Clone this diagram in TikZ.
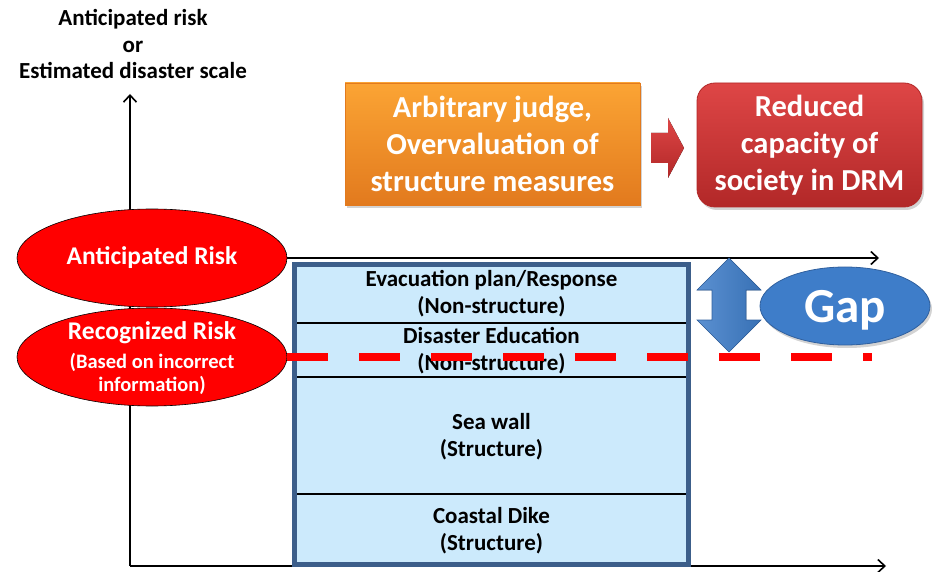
\documentclass[tikz,border=0pt]{standalone}
\usepackage{fontspec}
\setmainfont{Carlito}
\usetikzlibrary{shapes.geometric,arrows.meta,shadows}
\definecolor{boxfill}{RGB}{204,234,252}
\definecolor{boxedge}{RGB}{60,94,138}
\definecolor{orangetop}{RGB}{251,164,52}
\definecolor{orangebot}{RGB}{226,122,30}
\definecolor{redtop}{RGB}{222,70,70}
\definecolor{redbot}{RGB}{178,40,40}
\definecolor{bluefill}{RGB}{62,125,201}
\definecolor{blueedge}{RGB}{48,96,158}
\definecolor{dashred}{RGB}{255,0,0}
\tikzset{
  axisline/.style={line width=2.2pt,-{Straight Barb[length=7pt,width=13pt,line width=1.6pt]}},
  bigtext/.style={font=\bfseries\fontsize{30.5}{37}\selectfont,text=white,align=center},
  riskell/.style={ellipse,draw=black,line width=0.6pt,fill=dashred,text=white,
     minimum width=270pt,minimum height=98pt,inner sep=0pt,align=center,
     font=\bfseries\fontsize{25.5}{29}\selectfont},
  boxtext/.style={font=\bfseries\fontsize{23}{27}\selectfont,align=center,text=black},
  divider/.style={line width=1.2pt,black},
  shadowed/.style={drop shadow={opacity=0.35,shadow xshift=2pt,shadow yshift=-3pt}}
}
\begin{document}
\begin{tikzpicture}[x=1pt,y=-1pt]
\useasboundingbox (0,0) rectangle (932,572);

% title
\node[boxtext] (title) at (133,44) {Anticipated risk\\or\\Estimated disaster scale};

% axes
\coordinate (O) at (130,566);
\coordinate (ytop) at (130,94);
\coordinate (xend) at (886,566);
\draw[axisline] (O) -- (ytop);
\draw[axisline] (O) -- (xend);

% top boxes
\node[shadowed,top color=orangetop,bottom color=orangebot,draw=orangebot,line width=0.8pt,
  minimum width=295pt,minimum height=122pt,bigtext] (judge) at (492.5,144)
  {Arbitrary judge,\\Overvaluation of\\structure measures};
\node[shadowed,top color=redtop,bottom color=redbot,draw=redbot,line width=0.8pt,rounded corners=18pt,
  minimum width=225pt,minimum height=124pt,bigtext] (reduced) at (809.5,145)
  {Reduced\\capacity of\\society in DRM};
\coordinate (arrowtail) at (651,148);
\coordinate (arrowtip) at (684,148);
\fill[top color=redtop,bottom color=redbot] (arrowtail) ++(0,-15) -- (668,133) -- (668,118) -- (arrowtip)
  -- (668,178) -- (668,163) -- (651,163) -- cycle;

% ellipses
\node[riskell] (ar) at (152,258) {Anticipated Risk};
\node[riskell] (rr) at (152,357) {};
\node[font=\bfseries\fontsize{25.5}{29}\selectfont,text=white] (rr1) at (152,333) {Recognized Risk};
\node[font=\bfseries\fontsize{20.5}{23}\selectfont,text=white,align=center] (rr2) at (152,373.5)
  {(Based on incorrect\\information)};

% upper horizontal line
\coordinate (upend) at (879,258);
\draw[axisline] (ar.east) -- (upend);

% measures box
\node[draw=boxedge,fill=boxfill,line width=5pt,minimum width=394pt,minimum height=300pt,inner sep=0pt] (box) at (491.5,414.5) {};
\coordinate (d1l) at (297,323); \coordinate (d1r) at (686,323);
\coordinate (d2l) at (297,377); \coordinate (d2r) at (686,377);
\coordinate (d3l) at (297,494); \coordinate (d3r) at (686,494);
\draw[divider] (d1l) -- (d1r);
\draw[divider] (d2l) -- (d2r);
\draw[divider] (d3l) -- (d3r);
\node[boxtext] (evac) at (491.5,294) {Evacuation plan/Response\\(Non-structure)};
\node[boxtext] (educ) at (491.5,351) {Disaster Education\\(Non-structure)};
\node[boxtext] (sea) at (491.5,437) {Sea wall\\(Structure)};
\node[boxtext] (dike) at (491.5,531) {Coastal Dike\\(Structure)};

% red dashed recognized level
\coordinate (dashend) at (872,357);
\draw[dashred,line width=8pt,dash pattern=on 41pt off 31pt] (rr.east) -- (dashend);

% gap double arrow
\coordinate (gaptop) at (729,258);
\coordinate (gapbot) at (729,352);
\filldraw[left color=bluefill!85!white,right color=bluefill!90!black,draw=blueedge,line width=0.6pt]
  (gaptop) -- (761,290) -- (746,290) -- (746,320) -- (761,320) -- (gapbot)
  -- (697,320) -- (712,320) -- (712,290) -- (697,290) -- cycle;

% gap ellipse
\node[ellipse,shadowed,fill=bluefill,draw=blueedge,line width=0.8pt,minimum width=170pt,minimum height=78pt,
  inner sep=0pt,text=white,font=\bfseries\fontsize{49}{52}\selectfont,text depth=0pt,yshift=-2pt] (gap) at (845,304) {Gap};
\end{tikzpicture}
\end{document}
